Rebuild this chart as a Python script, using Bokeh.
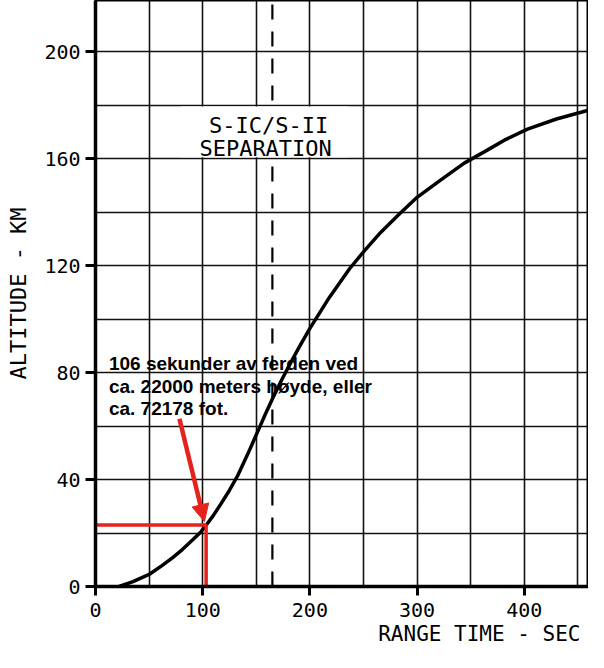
from bokeh.plotting import figure
from bokeh.models import Range1d, SingleIntervalTicker, Arrow, NormalHead, Title
from bokeh.core.properties import value
from bokeh.embed import file_html
from bokeh.resources import INLINE

# ---- data ----
time_s = [22, 35, 50, 62, 72, 81, 90.7, 98.5, 103, 110, 117, 125, 132.7, 142, 151.4,
          158, 165.4, 174, 182.5, 190, 200, 218, 237, 251, 266, 282, 300, 319, 329,
          344, 363, 383, 403, 430, 453, 472]
altitude_km = [0, 1.8, 4.5, 7.8, 10.8, 13.8, 17.5, 20.5, 22.8, 26.6, 30.9, 36, 41.5, 49.5, 58,
               64, 70.5, 77.5, 84, 89.5, 96.5, 108, 118.8, 125.6, 132.4, 138.7, 145.5, 151.1, 154,
               158.3, 162.6, 167.2, 171, 174.8, 177.3, 179.4]

separation_time = 165
separation_label = ["S-IC/S-II", "SEPARATION"]

marker_time = 103.2
marker_alt = 23.0
note_lines = ["106 sekunder av ferden ved",
              "ca. 22000 meters høyde, eller",
              "ca. 72178 fot."]

x_label = "RANGE TIME - SEC"
y_label = "ALTITUDE - KM"

# ---- layout / style ----
X_END = 459.9
Y_END = 219.1
RED = "#e5231d"
MONO = "DejaVu Sans Mono"

p = figure(width=588, height=652, output_backend="svg", toolbar_location=None,
           x_range=Range1d(0, X_END), y_range=Range1d(0, Y_END),
           min_border_left=95, min_border_right=0, min_border_top=0, min_border_bottom=66)
p.background_fill_color = "white"
p.border_fill_color = "white"
p.outline_line_color = "black"
p.outline_line_width = 2

# grids
p.xgrid.ticker = SingleIntervalTicker(interval=50)
p.ygrid.ticker = SingleIntervalTicker(interval=20)
for g in (p.xgrid, p.ygrid):
    g.grid_line_color = "#111111"
    g.grid_line_width = 1.6
    g.grid_line_alpha = 1.0

# axes
p.xaxis.ticker = SingleIntervalTicker(interval=100)
p.yaxis.ticker = SingleIntervalTicker(interval=40)
for ax in (p.xaxis, p.yaxis):
    ax.axis_line_width = 3.5
    ax.axis_line_color = "black"
    ax.major_tick_line_width = 3
    ax.major_tick_line_color = "black"
    ax.major_tick_in = 0
    ax.minor_tick_line_color = None
    ax.major_label_text_font = MONO
    ax.major_label_text_font_size = "20px"
    ax.major_label_text_color = "black"
p.xaxis.major_tick_out = 9
p.xaxis.major_label_standoff = 7
p.yaxis.major_tick_out = 10
p.yaxis.major_label_standoff = 5
p.yaxis.axis_label = y_label
p.yaxis.axis_label_text_font = MONO
p.yaxis.axis_label_text_font_size = "22px"
p.yaxis.axis_label_text_font_style = "normal"
p.yaxis.axis_label_text_color = "black"
p.yaxis.axis_label_standoff = 10

# separation dashed line
p.segment(x0=[separation_time], y0=[0], x1=[separation_time], y1=[Y_END],
          line_color="black", line_width=2.2, line_dash="15 12")

# white box behind separation label
p.quad(left=[80], right=[236], bottom=[160.5], top=[179.5],
       fill_color="white", line_color=None)
p.text(x=[161.5, 158.7], y=[172.5, 163.9], text=separation_label,
       text_font=value(MONO), text_font_size="22px", text_color="black",
       text_align="center", text_baseline="alphabetic")

# trajectory curve
p.line(time_s, altitude_km, line_color="black", line_width=3.5)

# red marker lines
p.line([0, marker_time, marker_time], [marker_alt, marker_alt, 0],
       line_color=RED, line_width=3.5)

# note text
p.text(x=[12.5, 12.5, 12.5], y=[83.4, 74.9, 66.4], text=note_lines,
       text_font=value("Liberation Sans"), text_font_style="bold",
       text_font_size="19px", text_color="black", text_baseline="alphabetic")

# red arrow
p.add_layout(Arrow(end=NormalHead(size=17, fill_color=RED, line_color=RED),
                   x_start=78.3, y_start=62.7, x_end=101.6, y_end=24.3,
                   line_color=RED, line_width=4.5))

# x axis label, right-aligned like the reference
p.add_layout(Title(text=x_label, align="right", text_font=MONO,
                   text_font_size="21px", text_font_style="normal",
                   text_color="black", standoff=0, offset=8), "below")

open("out.html", "w").write(file_html(p, INLINE))
